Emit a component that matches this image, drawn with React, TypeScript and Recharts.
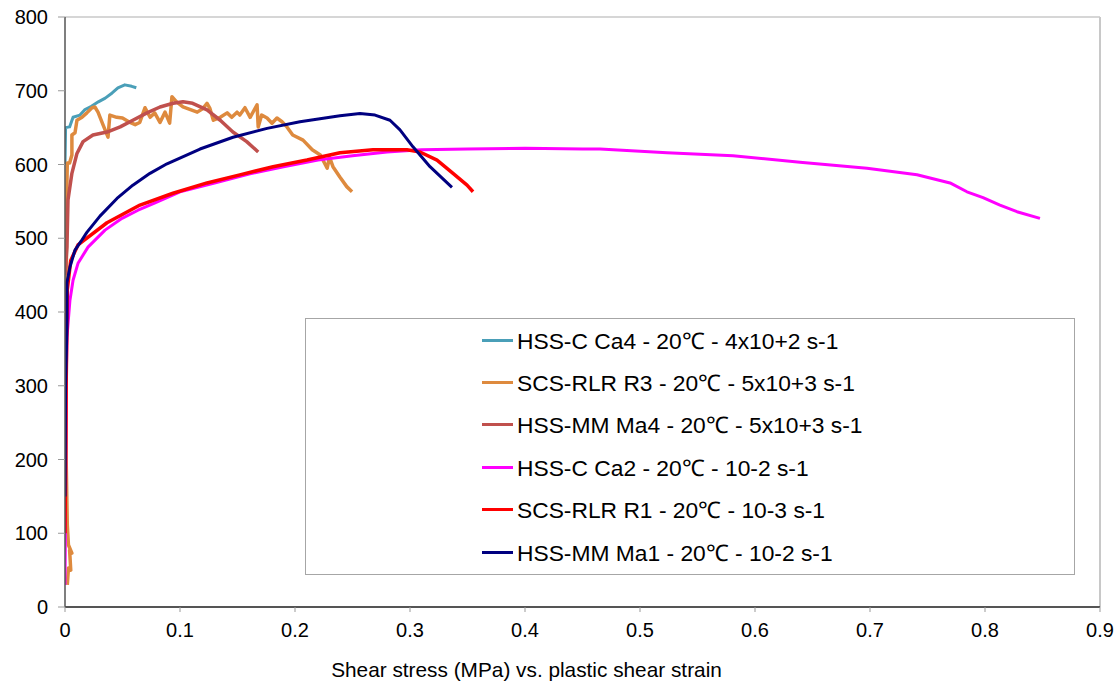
import { Legend, Line, LineChart, ReferenceLine, XAxis, YAxis } from "recharts";

// strain / stress pairs, one pair of arrays per specimen
const ca4Strain = [0, 0.0005, 0.004, 0.007, 0.013, 0.017, 0.023, 0.029, 0.035, 0.041, 0.046, 0.052, 0.058, 0.062];
const ca4Stress = [600, 650, 651, 664, 667, 674, 679, 685, 690, 697, 704, 708, 706, 704];

const r3Strain = [
  0.002, 0.003, 0.005, 0.004, 0.006, 0.003, 0.002, 0.001, 0.001, 0.0015, 0.002, 0.004, 0.006, 0.006,
  0.0087, 0.0104, 0.0148, 0.019, 0.0235, 0.026, 0.0287, 0.033, 0.0374, 0.039, 0.045, 0.05, 0.0565,
  0.061, 0.065, 0.0696, 0.074, 0.078, 0.0826, 0.087, 0.091, 0.093, 0.097, 0.1026, 0.115, 0.12,
  0.1235, 0.126, 0.129, 0.135, 0.141, 0.145, 0.1496, 0.152, 0.1565, 0.161, 0.167, 0.168, 0.171,
  0.1757, 0.18, 0.1843, 0.1887, 0.193, 0.198, 0.207, 0.215, 0.222, 0.228, 0.23, 0.233, 0.239, 0.245, 0.2496,
];
const r3Stress = [
  30, 53, 50, 77, 73, 84, 111, 200, 400, 560, 602, 602, 613, 640,
  643, 660, 664, 670, 677, 678, 671, 654, 637, 667, 664, 663, 657,
  654, 657, 677, 664, 670, 657, 671, 656, 692, 685, 678, 671, 676,
  683, 676, 660, 664, 670, 664, 671, 667, 677, 664, 681, 651, 667,
  663, 656, 663, 658, 651, 640, 633, 620, 613, 595, 610, 597, 583, 570, 563,
];

const ma4Strain = [0, 0.0017, 0.0026, 0.006, 0.0104, 0.0157, 0.0243, 0.0365, 0.048, 0.059, 0.0713, 0.0826, 0.094, 0.1026, 0.111, 0.1235, 0.135, 0.146, 0.158, 0.168];
const ma4Stress = [450, 488, 552, 588, 615, 631, 640, 644, 651, 660, 670, 678, 683, 685, 683, 674, 660, 644, 631, 617];

const ca2Strain = [
  0, 0.0005, 0.001, 0.0017, 0.0043, 0.007, 0.0113, 0.02, 0.0348, 0.0496, 0.0635, 0.0783, 0.1,
  0.13, 0.16, 0.19, 0.22, 0.25, 0.28, 0.31, 0.35, 0.4, 0.45, 0.4652, 0.5235, 0.5809, 0.6391,
  0.6974, 0.7409, 0.7696, 0.7843, 0.7983, 0.813, 0.8278, 0.8478,
];
const ca2Stress = [
  30, 150, 300, 366, 416, 443, 466, 488, 511, 527, 538, 548, 563,
  575, 587, 597, 606, 612, 617, 620, 621, 622, 621, 621, 616, 612, 603,
  595, 586, 575, 563, 555, 545, 536, 527,
];

const r1Strain = [0, 0.001, 0.002, 0.005, 0.0113, 0.0365, 0.0652, 0.0939, 0.1235, 0.152, 0.1809, 0.2104, 0.2391, 0.2678, 0.2974, 0.3087, 0.3235, 0.3374, 0.3496, 0.3548];
const r1Stress = [100, 300, 430, 470, 491, 521, 545, 561, 575, 586, 597, 606, 616, 620, 620, 617, 606, 588, 572, 563];

const ma1Strain = [0, 0.0005, 0.0017, 0.0017, 0.0043, 0.0087, 0.014, 0.019, 0.0304, 0.0452, 0.059, 0.0739, 0.0887, 0.1174, 0.1461, 0.1757, 0.2043, 0.2391, 0.2565, 0.2696, 0.2826, 0.2913, 0.3026, 0.3174, 0.3365];
const ma1Stress = [150, 300, 380, 440, 461, 484, 496, 508, 530, 554, 572, 588, 601, 621, 637, 649, 658, 666, 669, 667, 660, 647, 624, 597, 569];

const xTicks = [0, 0.1, 0.2, 0.3, 0.4, 0.5, 0.6, 0.7, 0.8, 0.9];
const yTicks = [0, 100, 200, 300, 400, 500, 600, 700, 800];

const font = '"Liberation Sans", Arial, sans-serif';

const toPoints = (xs: number[], ys: number[]) => xs.map((x, i) => ({ x, y: ys[i] }));

const series = [
  { name: "HSS-C Ca4 - 20℃ - 4x10+2 s-1", color: "#4A9FB8", width: 3, data: toPoints(ca4Strain, ca4Stress) },
  { name: "SCS-RLR R3 - 20℃ - 5x10+3 s-1", color: "#DE8A3E", width: 3.5, data: toPoints(r3Strain, r3Stress) },
  { name: "HSS-MM Ma4 - 20℃ - 5x10+3 s-1", color: "#C0504D", width: 3.5, data: toPoints(ma4Strain, ma4Stress) },
  { name: "HSS-C Ca2 - 20℃ - 10-2 s-1", color: "#FF00FF", width: 3, data: toPoints(ca2Strain, ca2Stress) },
  { name: "SCS-RLR R1 - 20℃ - 10-3 s-1", color: "#FF0000", width: 3.5, data: toPoints(r1Strain, r1Stress) },
  { name: "HSS-MM Ma1 - 20℃ - 10-2 s-1", color: "#000080", width: 3, data: toPoints(ma1Strain, ma1Stress) },
];

function LegendBox(props: any) {
  const items = [...(props.payload ?? [])].sort(
    (a: any, b: any) =>
      series.findIndex((s) => s.name === a.value) - series.findIndex((s) => s.name === b.value)
  );
  return (
    <div
      style={{
        width: 770,
        height: 257,
        border: "1.5px solid #a6a6a6",
        boxSizing: "border-box",
        background: "#fff",
      }}
    >
      {items.map((item: any) => (
        <div
          key={item.value}
          style={{
            display: "flex",
            alignItems: "center",
            height: 42.4,
            paddingLeft: 176,
            fontFamily: font,
            fontSize: 22.8,
            color: "#000",
          }}
        >
          <span
            style={{
              display: "inline-block",
              width: 31,
              height: 3,
              background: item.color,
              marginRight: 4,
            }}
          />
          {item.value}
        </div>
      ))}
    </div>
  );
}

export default function App() {
  return (
    <div style={{ position: "absolute", left: 0, top: 0, background: "#fff" }}>
      <LineChart
        width={1117}
        height={685}
        margin={{ top: 17, right: 17, bottom: 48, left: 5 }}
      >
        <XAxis
          dataKey="x"
          type="number"
          domain={[0, 0.9]}
          ticks={xTicks}
          allowDataOverflow
          height={30}
          tickSize={5}
          tickMargin={11}
          axisLine={{ stroke: "#555", strokeWidth: 2 }}
          tickLine={{ stroke: "#999" }}
          tick={{ fill: "#000", fontSize: 20, fontFamily: font }}
          label={{
            content: (p: any) => {
              const vb = p.viewBox;
              return (
                <text
                  x={vb.x + vb.width / 2 - 56}
                  y={vb.y + 70}
                  textAnchor="middle"
                  fontSize={20.8}
                  fontFamily={font}
                  fill="#000"
                >
                  Shear stress (MPa) vs. plastic shear strain
                </text>
              );
            },
          }}
        />
        <YAxis
          dataKey="y"
          type="number"
          domain={[0, 800]}
          ticks={yTicks}
          allowDataOverflow
          width={60}
          tickSize={7}
          tickMargin={10}
          axisLine={{ stroke: "#555", strokeWidth: 1.5 }}
          tickLine={{ stroke: "#999" }}
          tick={{ fill: "#000", fontSize: 20, fontFamily: font }}
        />
        <ReferenceLine y={800} stroke="#c8c8c8" strokeWidth={1.5} />
        <ReferenceLine x={0.9} stroke="#c8c8c8" strokeWidth={2} />
        <Legend
          layout="vertical"
          verticalAlign="middle"
          align="center"
          wrapperStyle={{ left: 305, top: 318, width: 770, height: 257 }}
          content={LegendBox}
        />
        {series.map((s) => (
          <Line
            key={s.name}
            name={s.name}
            data={s.data}
            dataKey="y"
            type="linear"
            stroke={s.color}
            strokeWidth={s.width}
            dot={false}
            activeDot={false}
            strokeLinejoin="round"
            isAnimationActive={false}
          />
        ))}
      </LineChart>
    </div>
  );
}
